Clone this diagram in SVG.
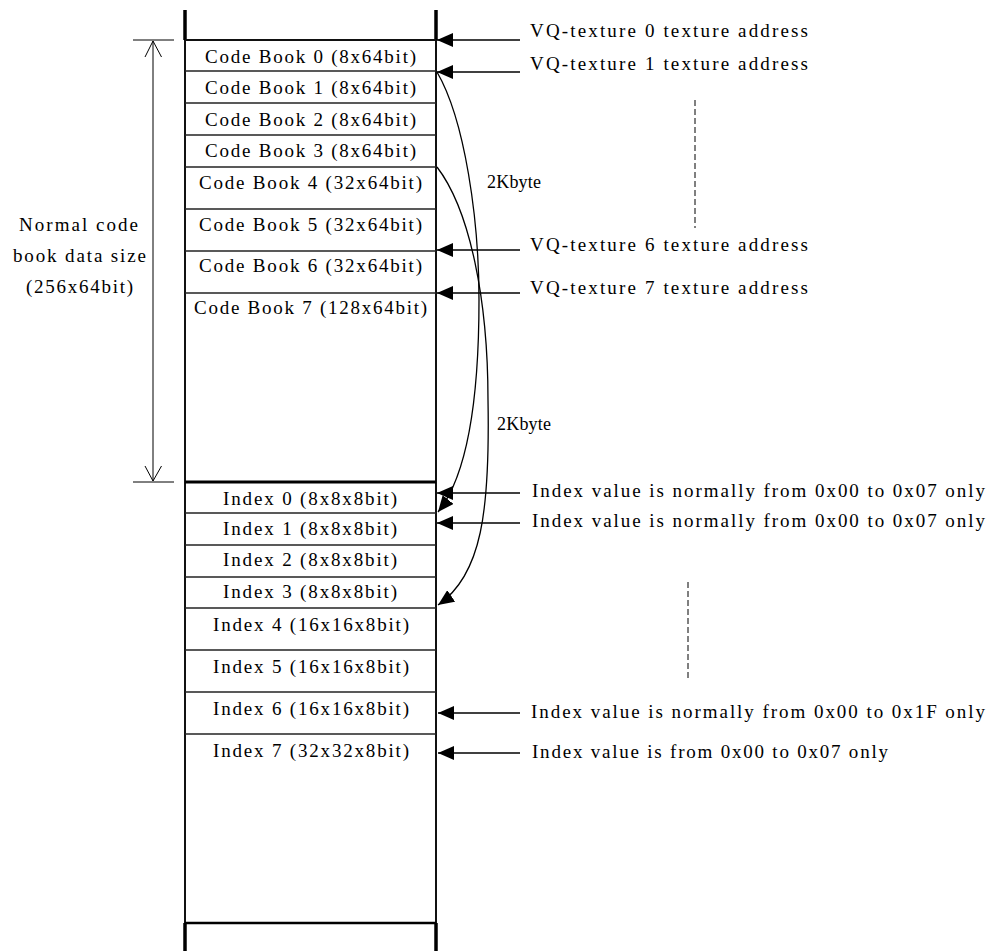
<svg xmlns="http://www.w3.org/2000/svg" width="990" height="951" viewBox="0 0 990 951">
<defs>
<style>
text{font-family:"Liberation Serif","Times New Roman",serif;font-size:19px;fill:#000}
text.small{font-size:18px}
.thick{stroke:#000;stroke-width:3.5;fill:none}
.side{stroke:#111;stroke-width:2;fill:none}
.row{stroke:#222;stroke-width:1.6;fill:none}
.conn{stroke:#000;stroke-width:1.3;fill:none}
.dim{stroke:#000;stroke-width:1;fill:none}
.dash{stroke:#000;stroke-width:1;fill:none;stroke-dasharray:6 3}
</style>
<marker id="ah" markerUnits="userSpaceOnUse" markerWidth="16" markerHeight="14" refX="16" refY="7" orient="auto">
<path d="M0,0 L16,7 L0,14 z" fill="#000"/>
</marker>
</defs>
<rect width="990" height="951" fill="#fff"/>

<g id="memory-column">
<line class="thick" x1="185" y1="10" x2="185" y2="40"/>
<line class="thick" x1="436" y1="10" x2="436" y2="40"/>
<line class="side" x1="185" y1="40" x2="185" y2="923"/>
<line class="side" x1="436" y1="40" x2="436" y2="923"/>
<line class="thick" x1="185" y1="923" x2="185" y2="951"/>
<line class="thick" x1="436" y1="923" x2="436" y2="951"/>
<line x1="185" y1="40" x2="436" y2="40" stroke="#111" stroke-width="2"/>
<line x1="185" y1="482" x2="436" y2="482" stroke="#000" stroke-width="3"/>
<line x1="185" y1="923" x2="436" y2="923" stroke="#000" stroke-width="2.5"/>
</g>

<g id="cb0"><text x="205" y="63" textLength="211" lengthAdjust="spacing">Code Book 0 (8x64bit)</text></g>
<g id="cb1"><line class="row" x1="185" y1="71" x2="436" y2="71"/><text x="205" y="94" textLength="211" lengthAdjust="spacing">Code Book 1 (8x64bit)</text></g>
<g id="cb2"><line class="row" x1="185" y1="103" x2="436" y2="103"/><text x="205" y="126" textLength="211" lengthAdjust="spacing">Code Book 2 (8x64bit)</text></g>
<g id="cb3"><line class="row" x1="185" y1="135" x2="436" y2="135"/><text x="205" y="157" textLength="211" lengthAdjust="spacing">Code Book 3 (8x64bit)</text></g>
<g id="cb4"><line class="row" x1="185" y1="167" x2="436" y2="167"/><text x="199" y="189" textLength="223" lengthAdjust="spacing">Code Book 4 (32x64bit)</text></g>
<g id="cb5"><line class="row" x1="185" y1="209" x2="436" y2="209"/><text x="199" y="231" textLength="223" lengthAdjust="spacing">Code Book 5 (32x64bit)</text></g>
<g id="cb6"><line class="row" x1="185" y1="251" x2="436" y2="251"/><text x="199" y="272" textLength="223" lengthAdjust="spacing">Code Book 6 (32x64bit)</text></g>
<g id="cb7"><line class="row" x1="185" y1="293" x2="436" y2="293"/><text x="194" y="314" textLength="233" lengthAdjust="spacing">Code Book 7 (128x64bit)</text></g>

<g id="idx0"><text x="223" y="505" textLength="174" lengthAdjust="spacing">Index 0 (8x8x8bit)</text></g>
<g id="idx1"><line class="row" x1="185" y1="513" x2="436" y2="513"/><text x="223" y="535" textLength="174" lengthAdjust="spacing">Index 1 (8x8x8bit)</text></g>
<g id="idx2"><line class="row" x1="185" y1="545" x2="436" y2="545"/><text x="223" y="566" textLength="174" lengthAdjust="spacing">Index 2 (8x8x8bit)</text></g>
<g id="idx3"><line class="row" x1="185" y1="577" x2="436" y2="577"/><text x="223" y="598" textLength="174" lengthAdjust="spacing">Index 3 (8x8x8bit)</text></g>
<g id="idx4"><line class="row" x1="185" y1="608" x2="436" y2="608"/><text x="213" y="631" textLength="196" lengthAdjust="spacing">Index 4 (16x16x8bit)</text></g>
<g id="idx5"><line class="row" x1="185" y1="650" x2="436" y2="650"/><text x="213" y="673" textLength="196" lengthAdjust="spacing">Index 5 (16x16x8bit)</text></g>
<g id="idx6"><line class="row" x1="185" y1="692" x2="436" y2="692"/><text x="213" y="715" textLength="196" lengthAdjust="spacing">Index 6 (16x16x8bit)</text></g>
<g id="idx7"><line class="row" x1="185" y1="734" x2="436" y2="734"/><text x="213" y="757" textLength="196" lengthAdjust="spacing">Index 7 (32x32x8bit)</text></g>

<g id="dimension">
<line class="dim" x1="133" y1="40" x2="174" y2="40"/>
<line class="dim" x1="133" y1="482" x2="174" y2="482"/>
<line class="dim" x1="153" y1="41" x2="153" y2="481"/>
<path class="dim" d="M145,57 L153,41 L161.5,57"/>
<path class="dim" d="M145,466 L153,481 L161.5,466"/>
<text x="19" y="231" textLength="119" lengthAdjust="spacing">Normal code</text>
<text x="13" y="262" textLength="133" lengthAdjust="spacing">book data size</text>
<text x="26" y="293" textLength="107" lengthAdjust="spacing">(256x64bit)</text>
</g>

<g id="labels">
<text x="530" y="37" textLength="278" lengthAdjust="spacing">VQ-texture 0 texture address</text>
<text x="530" y="70" textLength="278" lengthAdjust="spacing">VQ-texture 1 texture address</text>
<text x="530" y="251" textLength="278" lengthAdjust="spacing">VQ-texture 6 texture address</text>
<text x="530" y="294" textLength="278" lengthAdjust="spacing">VQ-texture 7 texture address</text>
<text class="small" x="487" y="188" textLength="54" lengthAdjust="spacing">2Kbyte</text>
<text class="small" x="497" y="430" textLength="54" lengthAdjust="spacing">2Kbyte</text>
<text x="532" y="497" textLength="453" lengthAdjust="spacing">Index value is normally from 0x00 to 0x07 only</text>
<text x="532" y="527" textLength="453" lengthAdjust="spacing">Index value is normally from 0x00 to 0x07 only</text>
<text x="531" y="718" textLength="454" lengthAdjust="spacing">Index value is normally from 0x00 to 0x1F only</text>
<text x="532" y="758" textLength="356" lengthAdjust="spacing">Index value is from 0x00 to 0x07 only</text>
</g>

<g id="connectors">
<line class="conn" x1="520" y1="40" x2="437" y2="40" marker-end="url(#ah)"/>
<line class="conn" x1="520" y1="72" x2="437" y2="72" marker-end="url(#ah)"/>
<line class="conn" x1="520" y1="250" x2="437" y2="250" marker-end="url(#ah)"/>
<line class="conn" x1="520" y1="293" x2="437" y2="293" marker-end="url(#ah)"/>
<line class="conn" x1="520" y1="493" x2="437" y2="493" marker-end="url(#ah)"/>
<line class="conn" x1="520" y1="523" x2="437" y2="523" marker-end="url(#ah)"/>
<line class="conn" x1="520" y1="713" x2="438" y2="713" marker-end="url(#ah)"/>
<line class="conn" x1="520" y1="753" x2="438" y2="753" marker-end="url(#ah)"/>
<path class="conn" d="M437,72 C465,120 479,220 479,300 C479,400 468,475 438,512" marker-end="url(#ah)"/>
<path class="conn" d="M437,167 C470,210 488,300 488,400 C490,510 482,575 438,605" marker-end="url(#ah)"/>
<line class="dash" x1="695" y1="100" x2="695" y2="228"/>
<line class="dash" x1="688" y1="582" x2="688" y2="680"/>
</g>
</svg>
